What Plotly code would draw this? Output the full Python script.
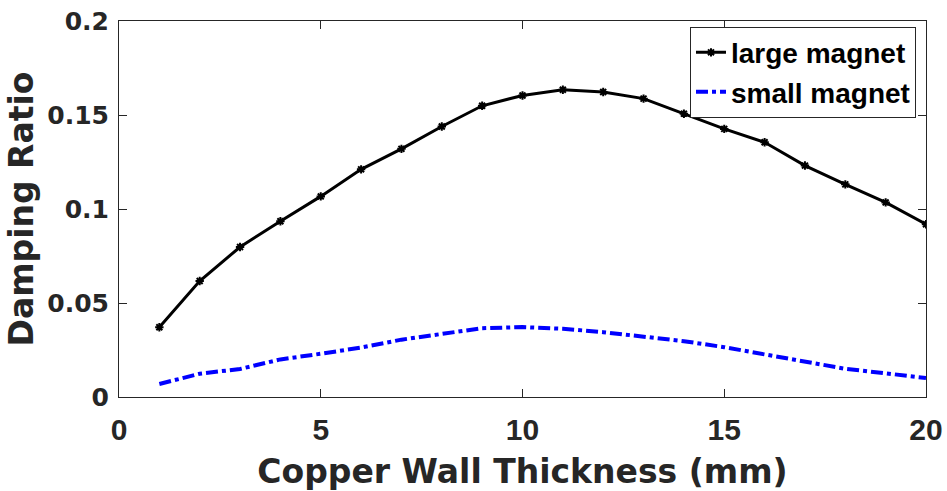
import plotly.graph_objects as go

thickness_mm = list(range(1, 21))
large_magnet = [0.0371, 0.0617, 0.0798, 0.0935, 0.1067, 0.1211, 0.1320, 0.1439, 0.1549, 0.1604,
                0.1634, 0.1622, 0.1587, 0.1507, 0.1426, 0.1355, 0.1231, 0.1131, 0.1035, 0.0919]
small_magnet = [0.0069, 0.0124, 0.0149, 0.0200, 0.0230, 0.0263, 0.0305, 0.0336, 0.0366, 0.0372,
                0.0363, 0.0345, 0.0322, 0.0297, 0.0265, 0.0226, 0.0187, 0.0150, 0.0126, 0.0101]
x_ticks = [0, 5, 10, 15, 20]
y_ticks = [0, 0.05, 0.1, 0.15, 0.2]

AX = "#262626"
fig = go.Figure()
fig.add_trace(go.Scatter(
    x=thickness_mm, y=large_magnet, name="large magnet", mode="lines+markers",
    line=dict(color="black", width=3),
    marker=dict(symbol="asterisk-open", size=7, color="black", line=dict(color="black", width=2)),
))
fig.add_trace(go.Scatter(
    x=thickness_mm, y=small_magnet, name="small magnet", mode="lines",
    line=dict(color="#0000ff", width=4, dash="dashdot"),
))

fig.update_layout(
    width=947, height=491,
    margin=dict(l=119, r=21, t=21, b=94),
    paper_bgcolor="white", plot_bgcolor="white",
    showlegend=True,
    legend=dict(
        x=0.9876, y=0.985, xanchor="right", yanchor="top",
        bgcolor="white", bordercolor=AX, borderwidth=1,
        font=dict(family="Liberation Sans", size=28, color="black", weight="bold"),
        itemwidth=30, tracegroupgap=0,
    ),
    xaxis=dict(
        range=[0, 20], tickvals=x_ticks, ticks="inside", ticklen=8, tickcolor=AX,
        showline=True, linecolor=AX, linewidth=1, mirror="ticks", showgrid=False, zeroline=False,
        automargin=False, ticklabelstandoff=6,
        tickfont=dict(family="Liberation Sans", size=30, color=AX, weight="bold"),
        title=dict(text="Copper Wall Thickness (mm)", standoff=36,
                   font=dict(family="DejaVu Sans", size=33, color=AX, weight="bold")),
    ),
    yaxis=dict(
        range=[0, 0.2], tickvals=y_ticks, ticks="inside", ticklen=8, tickcolor=AX,
        showline=True, linecolor=AX, linewidth=1, mirror="ticks", showgrid=False, zeroline=False,
        automargin=False, ticklabelstandoff=4,
        tickfont=dict(family="DejaVu Sans", size=25, color=AX, weight="bold"),
        title=dict(text="Damping Ratio", standoff=3,
                   font=dict(family="DejaVu Sans", size=33, color=AX, weight="bold")),
    ),
)
fig.write_html("out.html", config={"displayModeBar": False},
               post_script="document.body.style.margin='0';document.body.style.padding='0';")
